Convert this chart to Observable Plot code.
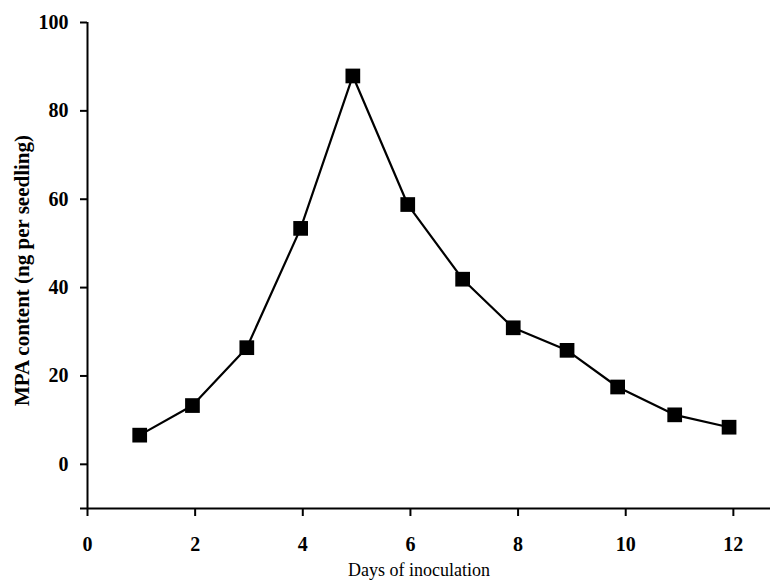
<!DOCTYPE html>
<html>
<head>
<meta charset="utf-8">
<script src="https://cdn.jsdelivr.net/npm/d3@7"></script>
<script src="https://cdn.jsdelivr.net/npm/@observablehq/plot@0.6"></script>
<style>
  html, body { margin: 0; padding: 0; background: #fff; }
  #chart svg { display: block; }
</style>
</head>
<body>
<div id="chart"></div>
<script>
// Data
const days = [0.97, 1.95, 2.96, 3.96, 4.93, 5.95, 6.97, 7.91, 8.91, 9.85, 10.91, 11.92];
const mpa  = [6.6, 13.3, 26.4, 53.4, 87.9, 58.8, 41.9, 30.9, 25.8, 17.5, 11.2, 8.4];
const xTicks = [0, 2, 4, 6, 8, 10, 12];
const yTicks = [-10, 0, 20, 40, 60, 80, 100];
const xTitle = "Days of inoculation";
const yTitle = "MPA content (ng per seedling)";

const data = days.map((d, i) => ({day: d, value: mpa[i]}));
const font = "'Liberation Serif', 'DejaVu Serif', serif";

const chart = Plot.plot({
  width: 770,
  height: 581,
  marginLeft: 87,
  marginRight: 0,
  marginTop: 22,
  marginBottom: 73,
  style: {fontFamily: font, color: "#000", background: "#fff"},
  x: {domain: [0, 12.69]},
  y: {domain: [-10, 100]},
  marks: [
    Plot.ruleX([0], {stroke: "#000", strokeWidth: 2}),
    Plot.ruleY([-10], {stroke: "#000", strokeWidth: 2}),
    Plot.axisY({
      ticks: yTicks, tickSize: 7, tickPadding: 12, strokeWidth: 2,
      tickFormat: d => d < 0 ? "" : d, label: null,
      fontSize: 20, fontWeight: "bold"
    }),
    Plot.axisX({
      ticks: xTicks, tickSize: 8, tickPadding: 20, strokeWidth: 2,
      label: null, fontSize: 20, fontWeight: "bold"
    }),
    Plot.line(data, {x: "day", y: "value", stroke: "#000", strokeWidth: 2.2}),
    Plot.dot(data, {x: "day", y: "value", symbol: "square", r: 8.3, fill: "#000", stroke: "none"}),
    Plot.text([xTitle], {frameAnchor: "bottom", textAnchor: "middle", dx: -10, dy: 67, fontSize: 18, lineAnchor: "bottom", fill: "#000"}),
    Plot.text([yTitle], {frameAnchor: "left", textAnchor: "middle", dx: -65, dy: 5, rotate: -90, fontSize: 21, fontWeight: "bold", lineAnchor: "middle", fill: "#000"})
  ]
});
document.getElementById("chart").appendChild(chart);
</script>
</body>
</html>
